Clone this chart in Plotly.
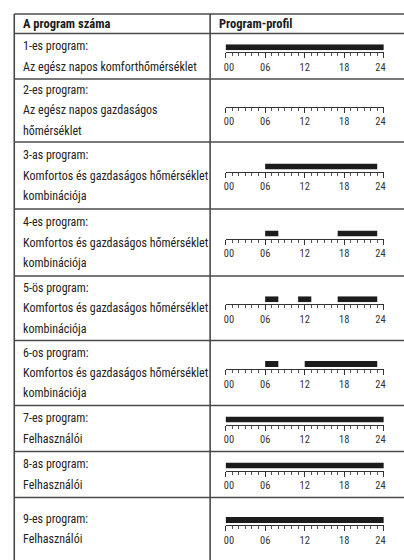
import plotly.graph_objects as go

# ---------------- data ----------------
header_left = "A program száma"
header_right = "Program-profil"
program_titles = ["1-es program:", "2-es program:", "3-as program:", "4-es program:",
                  "5-ös program:", "6-os program:", "7-es program:", "8-as program:",
                  "9-es program:"]
program_descriptions = [
    ["Az egész napos komforthőmérséklet"],
    ["Az egész napos gazdaságos", "hőmérséklet"],
    ["Komfortos és gazdaságos hőmérséklet", "kombinációja"],
    ["Komfortos és gazdaságos hőmérséklet", "kombinációja"],
    ["Komfortos és gazdaságos hőmérséklet", "kombinációja"],
    ["Komfortos és gazdaságos hőmérséklet", "kombinációja"],
    ["Felhasználói"],
    ["Felhasználói"],
    ["Felhasználói"],
]
comfort_starts = [[0], [], [6], [6, 17], [6, 11, 17], [6, 12], [0], [0], [0]]
comfort_ends = [[24], [], [23], [8, 23], [8, 13, 23], [8, 23], [24], [24], [24]]
tick_hours = [0, 6, 12, 18, 24]
tick_labels = ["\u2002\u200900", "06", "12", "18", "24\u2002\u2009"]

# ---------------- layout geometry (pixels) ----------------
W, H = 404, 560
def fx(p): return p / W
def fy(p): return 1 - p / H

row_lines = [14, 33.5, 79, 142, 209, 276, 340.5, 405.5, 451.5, 497.5, 561]
left_x, mid_x, right_x = 5.5, 210.5, 420
ax_x0, ax_x1 = 226.7, 392.3
line_gap = 20.5
LINE_COL = "#4a4a4a"
TEXT_FONT = "Roboto Condensed, Liberation Sans, Arial, sans-serif"

fig = go.Figure()
shapes = []
annotations = []

# table grid
for y in row_lines:
    shapes.append(dict(type="line", xref="paper", yref="paper", x0=fx(left_x), x1=fx(right_x),
                       y0=fy(y), y1=fy(y), line=dict(color=LINE_COL, width=1.6)))
for x in (left_x, mid_x):
    shapes.append(dict(type="line", xref="paper", yref="paper", x0=fx(x), x1=fx(x),
                       y0=fy(row_lines[0]), y1=fy(row_lines[-1]), line=dict(color=LINE_COL, width=1.6)))

# header
hc = (row_lines[0] + row_lines[1]) / 2
for txt, xp in ((header_left, 13), (header_right, 218)):
    annotations.append(dict(text="<b>" + txt + "</b>", x=fx(xp), y=fy(hc), xref="paper", yref="paper",
                            xanchor="left", yanchor="middle", showarrow=False,
                            font=dict(family=TEXT_FONT, size=12.5, color="#1a1a1a")))

layout_axes = {}
for i in range(9):
    top, bot = row_lines[i + 1], row_lines[i + 2]
    if i == 8:
        bot = 560.5
    c = (top + bot) / 2
    lines = [program_titles[i]] + program_descriptions[i]
    n = len(lines)
    for k, t in enumerate(lines):
        yc = c + (k - (n - 1) / 2) * line_gap
        annotations.append(dict(text=t, x=fx(13), y=fy(yc), xref="paper", yref="paper",
                                xanchor="left", yanchor="middle", showarrow=False,
                                font=dict(family=TEXT_FONT, size=12, color="#222222")))
    # ruler geometry
    bar_top, bar_bot, axis_y = c - 12, c - 6, c - 4
    n_ax = i + 1
    xa = "xaxis" if n_ax == 1 else f"xaxis{n_ax}"
    ya = "yaxis" if n_ax == 1 else f"yaxis{n_ax}"
    xr = "x" if n_ax == 1 else f"x{n_ax}"
    yr = "y" if n_ax == 1 else f"y{n_ax}"
    layout_axes[xa] = dict(domain=[fx(ax_x0), fx(ax_x1)], range=[0, 24], anchor="free",
                           position=fy(axis_y), showline=True, linecolor="#333333", linewidth=1,
                           showgrid=False, zeroline=False, fixedrange=True,
                           tickmode="array", tickvals=tick_hours, ticktext=tick_labels,
                           ticks="outside", ticklen=5, tickwidth=1, tickcolor="#333333",
                           tickfont=dict(family=TEXT_FONT, size=10.5, color="#333333"),
                           minor=dict(tickmode="linear", tick0=0, dtick=1, ticks="outside",
                                      ticklen=3, tickwidth=1, tickcolor="#555555", showgrid=False))
    layout_axes[ya] = dict(domain=[fy(bar_bot), fy(bar_top)], range=[0, 1], anchor=xr,
                           visible=False, fixedrange=True)
    starts, ends = comfort_starts[i], comfort_ends[i]
    fig.add_trace(go.Bar(x=[e - s for s, e in zip(starts, ends)], base=starts,
                         y=[0.5] * len(starts), width=1, orientation="h",
                         marker=dict(color="#1c1c1c", line=dict(width=0)),
                         xaxis=xr, yaxis=yr, showlegend=False, hoverinfo="skip"))

fig.update_layout(width=W, height=H, margin=dict(l=0, r=0, t=0, b=0),
                  paper_bgcolor="white", plot_bgcolor="rgba(0,0,0,0)",
                  shapes=shapes, annotations=annotations, showlegend=False, **layout_axes)
fig.write_html("out.html", config={"displayModeBar": False, "staticPlot": True},
               post_script="document.body.style.margin='0';document.body.style.overflow='hidden';")
